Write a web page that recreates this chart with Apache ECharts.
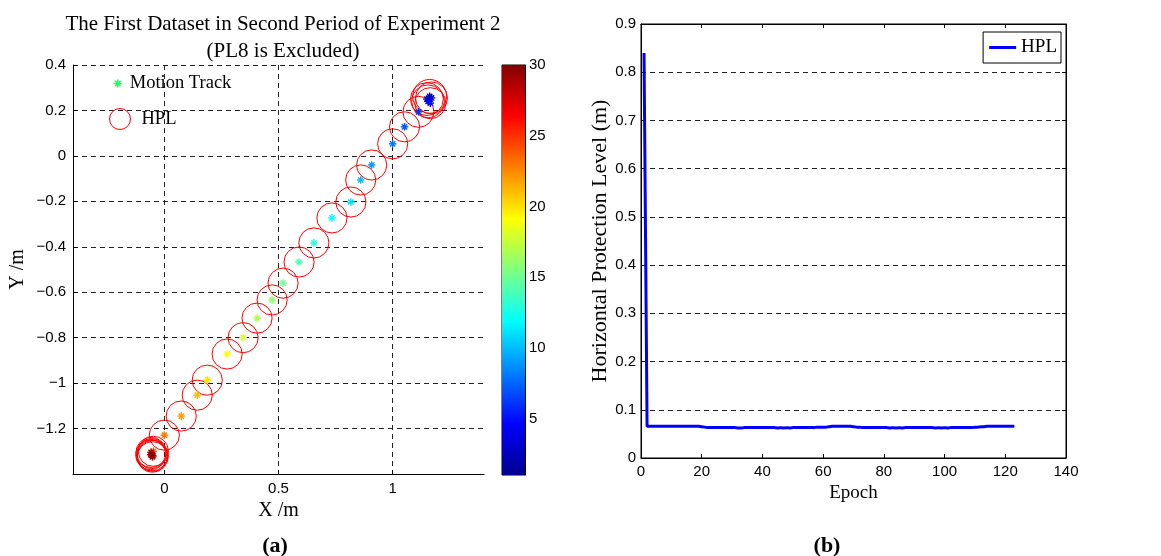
<!DOCTYPE html>
<html>
<head>
<meta charset="utf-8">
<title>HPL - Experiment 2</title>
<script src="https://cdn.jsdelivr.net/npm/echarts@6.0.0/dist/echarts.min.js"></script>
<style>
    html, body { margin: 0; padding: 0; background: #fff; }
    #main { width: 1161px; height: 556px; }
</style>
</head>
<body>
<div id="main"></div>
<script>
// (a) motion track: position of each sample and its colour value (1 = first)
const trackX = [1.150, 1.162, 1.170, 1.155, 1.165, 1.113, 1.052, 1.000, 0.908, 0.860,
                0.817, 0.734, 0.655, 0.590, 0.520, 0.472, 0.406, 0.345, 0.275, 0.188,
                0.144, 0.074, 0.000, -0.048, -0.055, -0.050, -0.060, -0.052, -0.058, -0.054];
const trackY = [0.250, 0.262, 0.255, 0.240, 0.232, 0.194, 0.128, 0.053, -0.040, -0.106,
                -0.203, -0.273, -0.383, -0.467, -0.560, -0.634, -0.714, -0.800, -0.872, -0.987,
                -1.053, -1.145, -1.229, -1.300, -1.310, -1.320, -1.315, -1.325, -1.305, -1.318];
const trackIndex = [1, 2, 3, 4, 5, 6, 7, 8, 9, 10,
                    11, 12, 13, 14, 15, 16, 17, 18, 19, 20,
                    21, 22, 23, 24, 25, 26, 27, 28, 29, 30];
// HPL radius (m) drawn around each sample
const hplRadius = [0.072, 0.074, 0.070, 0.072, 0.068, 0.068, 0.066, 0.066, 0.066, 0.066,
                   0.066, 0.066, 0.066, 0.066, 0.066, 0.066, 0.066, 0.066, 0.066, 0.066,
                   0.066, 0.066, 0.066, 0.066, 0.066, 0.068, 0.066, 0.067, 0.066, 0.068];

// (b) HPL per epoch (epoch 1 .. 123)
const hplValues = [
    0.840, 0.066, 0.066, 0.066, 0.066, 0.066, 0.066, 0.066, 0.066, 0.066,
    0.066, 0.066, 0.066, 0.066, 0.066, 0.066, 0.066, 0.066, 0.066, 0.065,
    0.064, 0.063, 0.063, 0.063, 0.063, 0.063, 0.063, 0.063, 0.063, 0.063,
    0.063, 0.062, 0.062, 0.063, 0.063, 0.063, 0.063, 0.063, 0.063, 0.063,
    0.063, 0.063, 0.063, 0.063, 0.062, 0.063, 0.062, 0.063, 0.062, 0.063,
    0.063, 0.063, 0.063, 0.063, 0.063, 0.063, 0.063, 0.064, 0.064, 0.064,
    0.064, 0.065, 0.066, 0.066, 0.066, 0.066, 0.066, 0.066, 0.066, 0.065,
    0.064, 0.064, 0.063, 0.063, 0.063, 0.063, 0.063, 0.063, 0.063, 0.063,
    0.063, 0.062, 0.063, 0.062, 0.063, 0.062, 0.063, 0.063, 0.063, 0.063,
    0.063, 0.063, 0.063, 0.063, 0.063, 0.063, 0.062, 0.063, 0.062, 0.063,
    0.062, 0.063, 0.063, 0.063, 0.063, 0.063, 0.063, 0.063, 0.063, 0.064,
    0.064, 0.065, 0.065, 0.066, 0.066, 0.066, 0.066, 0.066, 0.066, 0.066,
    0.066, 0.066, 0.066
];

// tick labels
const xTicksA = [0, 0.5, 1];
const colorbarTicks = [5, 10, 15, 20, 25, 30];
const colorbarRange = [1, 30];

// matlab jet colormap
const jetColors = ['#00008f', '#0000ff', '#0080ff', '#00ffff', '#80ff80',
                   '#ffff00', '#ff8000', '#ff0000', '#800000'];

const sans = 'Liberation Sans';
const serif = 'Liberation Serif';
const dashed = { show: true, lineStyle: { color: '#222', type: [5, 4], width: 1 } };
const blackLine = { show: true, onZero: false, lineStyle: { color: '#000', width: 1 } };
const labelStyle = { color: '#000', fontFamily: sans, fontSize: 15 };

function signed(v) {
    let r = Math.round(v * 10) / 10;
    if (r < 0) return '\u2212' + (-r);
    return String(r);
}

function renderCircle(params, api) {
    let c = api.coord([api.value(0), api.value(1)]);
    let r = api.size([api.value(2), api.value(2)])[0];
    return {
        type: 'circle',
        shape: { cx: c[0], cy: c[1], r: r },
        style: { fill: 'none', stroke: '#ff0000', lineWidth: 1 }
    };
}

function renderStar(params, api) {
    let p = api.coord([api.value(0), api.value(1)]);
    let col = api.visual('color');
    let s = 3.8, d = 2.6;
    let seg = function (x1, y1, x2, y2) {
        return { type: 'line', shape: { x1: p[0] + x1, y1: p[1] + y1, x2: p[0] + x2, y2: p[1] + y2 },
                 style: { stroke: col, lineWidth: 1.4 } };
    };
    return { type: 'group', children: [
        seg(-s, 0, s, 0), seg(0, -s, 0, s), seg(-d, -d, d, d), seg(-d, d, d, -d)
    ] };
}

function renderColorbar(params, api) {
    let p1 = api.coord([0, api.value(1)]);
    let p2 = api.coord([1, api.value(0)]);
    let stops = jetColors.map(function (c, i) {
        return { offset: 1 - i / (jetColors.length - 1), color: c };
    });
    return {
        type: 'rect',
        shape: { x: p1[0], y: p1[1], width: p2[0] - p1[0], height: p2[1] - p1[1] },
        style: { fill: new echarts.graphic.LinearGradient(0, 0, 0, 1, stops.reverse()) }
    };
}

const myChart = echarts.init(document.getElementById('main'));

const options = {
    backgroundColor: '#fff',
    animation: false,
    title: [
        {
            text: 'The First Dataset in Second Period of Experiment 2\n(PL8 is Excluded)',
            left: 278, top: 6, textAlign: 'center',
            textStyle: { fontFamily: serif, fontSize: 21, fontWeight: 'normal', color: '#000', lineHeight: 27 }
        },
        {
            text: '(a)', left: 270, top: 530, textAlign: 'center',
            textStyle: { fontFamily: serif, fontSize: 22, fontWeight: 'bold', color: '#000' }
        },
        {
            text: '(b)', left: 822, top: 530, textAlign: 'center',
            textStyle: { fontFamily: serif, fontSize: 22, fontWeight: 'bold', color: '#000' }
        }
    ],
    legend: [
        {
            data: [{
                name: 'Motion Track',
                icon: 'path://M5,0L5,10M0,5L10,5M1.5,1.5L8.5,8.5M1.5,8.5L8.5,1.5',
                itemStyle: { color: '#22ff66', borderColor: '#22ff66', borderWidth: 1.5 }
            }],
            left: 113, top: 74, padding: 0, itemWidth: 8, itemHeight: 8,
            selectedMode: false,
            textStyle: { fontFamily: serif, fontSize: 18.5, color: '#000', padding: [0, 0, 0, 3] }
        },
        {
            data: [{
                name: 'HPL (circles)',
                icon: 'circle',
                itemStyle: { color: 'transparent', borderColor: '#ff0000', borderWidth: 1 }
            }],
            formatter: function () { return 'HPL'; },
            left: 109, top: 108, padding: 0, itemWidth: 21, itemHeight: 21,
            selectedMode: false,
            textStyle: { fontFamily: serif, fontSize: 18.5, color: '#000', padding: [0, 0, 0, 6] }
        },
        {
            data: [{ name: 'HPL', icon: 'rect', itemStyle: { color: '#0000ff', borderWidth: 0 } }],
            right: 100, top: 32, itemWidth: 27, itemHeight: 3,
            padding: [6, 4, 6, 6],
            borderColor: '#000', borderWidth: 1, backgroundColor: '#fff',
            selectedMode: false,
            textStyle: { fontFamily: serif, fontSize: 19, color: '#000' }
        }
    ],
    visualMap: {
        show: false,
        seriesIndex: 1,
        dimension: 2,
        min: colorbarRange[0],
        max: colorbarRange[1],
        inRange: { color: jetColors }
    },
    grid: [
        { left: 73, top: 65, width: 411, height: 409 },
        { left: 641, top: 24, width: 425, height: 434, show: true, borderColor: '#000', borderWidth: 1 },
        { left: 502, top: 65, width: 23, height: 410, show: true, borderColor: '#000', borderWidth: 1 }
    ],
    xAxis: [
        {
            gridIndex: 0, type: 'value', min: -0.4, max: 1.4,
            axisLine: blackLine,
            axisTick: { customValues: xTicksA, inside: true, length: 4, lineStyle: { color: '#000' } },
            axisLabel: Object.assign({ customValues: xTicksA, margin: 7, formatter: signed }, labelStyle),
            splitLine: dashed,
            name: 'X /m', nameLocation: 'middle', nameGap: 22,
            nameTextStyle: { fontFamily: serif, fontSize: 20, color: '#000' }
        },
        {
            gridIndex: 1, type: 'value', min: 0, max: 140, interval: 20,
            axisLine: blackLine,
            axisTick: { inside: true, length: 4, lineStyle: { color: '#000' } },
            axisLabel: Object.assign({ margin: 6 }, labelStyle),
            splitLine: { show: false },
            name: 'Epoch', nameLocation: 'middle', nameGap: 24,
            nameTextStyle: { fontFamily: serif, fontSize: 19, color: '#000' }
        },
        {
            gridIndex: 1, type: 'value', position: 'top', min: 0, max: 140, interval: 20,
            axisLine: blackLine,
            axisTick: { inside: true, length: 4, lineStyle: { color: '#000' } },
            axisLabel: { show: false },
            splitLine: { show: false }
        },
        { gridIndex: 2, type: 'value', min: 0, max: 1, show: false }
    ],
    yAxis: [
        {
            gridIndex: 0, type: 'value', min: -1.4, max: 0.4, interval: 0.2,
            axisLine: blackLine,
            axisTick: { inside: true, length: 4, lineStyle: { color: '#000' } },
            axisLabel: Object.assign({
                margin: 7,
                formatter: function (v) { return Math.round(v * 10) === -14 ? '' : signed(v); }
            }, labelStyle),
            splitLine: dashed,
            name: 'Y /m', nameLocation: 'middle', nameGap: 45,
            nameTextStyle: { fontFamily: serif, fontSize: 20, color: '#000' }
        },
        {
            gridIndex: 1, type: 'value', min: 0, max: 0.9, interval: 0.1,
            axisLine: blackLine,
            axisTick: { inside: true, length: 4, lineStyle: { color: '#000' } },
            axisLabel: Object.assign({ margin: 5 }, labelStyle),
            splitLine: dashed,
            name: 'Horizontal Protection Level (m)', nameLocation: 'middle', nameGap: 23,
            nameTextStyle: { fontFamily: serif, fontSize: 22, color: '#000' }
        },
        {
            gridIndex: 1, type: 'value', position: 'right', min: 0, max: 0.9, interval: 0.1,
            axisLine: blackLine,
            axisTick: { inside: true, length: 4, lineStyle: { color: '#000' } },
            axisLabel: { show: false },
            splitLine: { show: false }
        },
        {
            gridIndex: 2, type: 'value', position: 'right', min: colorbarRange[0], max: colorbarRange[1],
            axisLine: blackLine,
            axisTick: { customValues: colorbarTicks, inside: true, length: 4, lineStyle: { color: '#000' } },
            axisLabel: Object.assign({ customValues: colorbarTicks, margin: 4 }, labelStyle),
            splitLine: { show: false }
        }
    ],
    series: [
        {
            name: 'HPL (circles)',
            type: 'custom',
            xAxisIndex: 0, yAxisIndex: 0,
            renderItem: renderCircle,
            itemStyle: { color: '#ff0000' },
            encode: { x: 0, y: 1 },
            data: trackX.map(function (x, i) { return [x, trackY[i], hplRadius[i]]; }),
            z: 3
        },
        {
            name: 'Motion Track',
            type: 'custom',
            xAxisIndex: 0, yAxisIndex: 0,
            renderItem: renderStar,
            encode: { x: 0, y: 1 },
            data: trackX.map(function (x, i) { return [x, trackY[i], trackIndex[i]]; }),
            z: 4
        },
        {
            name: 'HPL',
            type: 'line',
            xAxisIndex: 1, yAxisIndex: 1,
            symbol: 'none',
            lineStyle: { color: '#0000ff', width: 3 },
            itemStyle: { color: '#0000ff' },
            data: hplValues.map(function (v, i) { return [i + 1, v]; }),
            z: 3
        },
        {
            name: 'colorbar',
            type: 'custom',
            xAxisIndex: 3, yAxisIndex: 3,
            renderItem: renderColorbar,
            data: [[colorbarRange[0], colorbarRange[1]]],
            encode: { y: [0, 1] },
            silent: true
        }
    ]
};

myChart.setOption(options);
window.addEventListener('resize', myChart.resize);
</script>
</body>
</html>
